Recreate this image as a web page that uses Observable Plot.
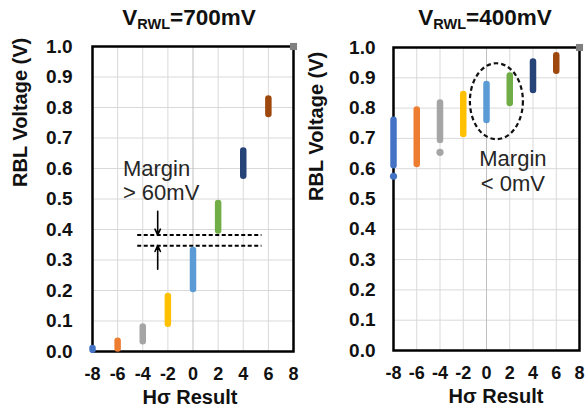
<!DOCTYPE html>
<html>
<head>
<meta charset="utf-8">
<script src="https://cdn.jsdelivr.net/npm/d3@7"></script>
<script src="https://cdn.jsdelivr.net/npm/@observablehq/plot@0.6"></script>
<style>
  html, body { margin: 0; padding: 0; background: #fff; }
  #root { position: relative; width: 586px; height: 415px; overflow: hidden; font-family: "Liberation Sans", Arial, sans-serif; }
  .panel { position: absolute; top: 0; }
  .title { position: absolute; top: 8px; width: 220px; text-align: center; font-weight: bold; font-size: 22.5px; line-height: 20px; color: #111; white-space: nowrap; }
  .title sub { font-size: 14.5px; vertical-align: -4px; line-height: 0; }
</style>
</head>
<body>
<div id="root">
  <div class="title" style="left:79px">V<sub>RWL</sub>=700mV</div>
  <div class="title" style="left:375px">V<sub>RWL</sub>=400mV</div>
  <div class="panel" id="left" style="left:0px"></div>
  <div class="panel" id="right" style="left:300px"></div>
</div>
<script>
// ---- data ----
const hSigma = [-8, -6, -4, -2, 0, 2, 4, 6];
const barColors = ["#4472C4", "#ED7D31", "#A5A5A5", "#FFC000", "#5B9BD5", "#70AD47", "#264478", "#9E480E"];
// V_RWL = 700 mV : RBL voltage ranges
const low700  = [0.004, 0.008, 0.032, 0.089, 0.203, 0.395, 0.575, 0.777];
const high700 = [0.010, 0.034, 0.080, 0.180, 0.331, 0.485, 0.657, 0.828];
// V_RWL = 400 mV : RBL voltage ranges
const low400  = [0.610, 0.614, 0.693, 0.713, 0.759, 0.815, 0.858, 0.922];
const high400 = [0.760, 0.794, 0.817, 0.845, 0.878, 0.906, 0.952, 0.973];
// isolated points below the 400 mV ranges
const tailX400 = [-8, -4];
const tailY400 = [0.575, 0.654];
// axis ticks
const xTicks = [-8, -6, -4, -2, 0, 2, 4, 6, 8];
const yTicks = [0.0, 0.1, 0.2, 0.3, 0.4, 0.5, 0.6, 0.7, 0.8, 0.9, 1.0];
const xGrid = [-6, -4, -2, 2, 4, 6];
// corner marker
const cornerX = [8];
const cornerY = [1.0];
// margin annotation (700 mV)
const marginLevels700 = [0.382, 0.347];
const marginSpan700 = [-4.40, 5.49];
const arrowX700 = -2.81;
const arrowFrom700 = [0.46, 0.27];
const arrowTo700 = [0.382, 0.347];
const marginText700 = ["Margin", "> 60mV"];
const marginTextX700 = [-5.58, -5.58];
const marginTextY700 = [0.598, 0.520];
// margin annotation (400 mV)
const ellipseCenter400 = [0.895, 0.821];
const marginText400 = ["Margin", "< 0mV"];
const marginTextX400 = [-0.62, -0.50];
const marginTextY400 = [0.631, 0.549];

const yTitle = "RBL Voltage (V)";
const xTitle = "Hσ Result";

function panel(cfg) {
  const bars = hSigma.map((x, i) => ({x, lo: cfg.low[i], hi: cfg.high[i], c: barColors[i]}));
  const marks = [
    Plot.gridX(xGrid, {stroke: "#d9d9d9", strokeOpacity: 1, strokeWidth: 1}),
    Plot.gridY(yTicks.slice(1, -1), {stroke: "#d9d9d9", strokeOpacity: 1, strokeWidth: 1}),
    Plot.ruleX([0], {stroke: "#bfbfbf", strokeWidth: 1}),
    Plot.frame({stroke: "#000", strokeWidth: 2.5}),
    ...cfg.extra,
    Plot.ruleX(bars, {x: "x", y1: "lo", y2: "hi", stroke: "c", strokeWidth: cfg.barWidth, strokeLinecap: "round"}),
    ...cfg.extraTop,
    Plot.dot(cornerX.map((x, i) => ({x, y: cornerY[i]})), {x: "x", y: "y", symbol: "square", r: 4, fill: "#808080", stroke: "none"}),
    Plot.axisX({ticks: xTicks, tickFormat: d => String(d), tickSize: 0, tickPadding: 16, label: null, fontSize: 18, fontWeight: "bold", fill: "#111"}),
    Plot.axisY({ticks: yTicks, tickFormat: d => d.toFixed(1), tickSize: 0, tickPadding: cfg.yPad, label: null, fontSize: 19, fontWeight: "bold", fill: "#111"}),
    Plot.text([yTitle], {frameAnchor: "left", rotate: -90, dx: cfg.yTitleDx, dy: cfg.yTitleDy, fontSize: 20, fontWeight: "bold", fill: "#111"}),
    Plot.text([xTitle], {frameAnchor: "bottom", dy: 52, dx: cfg.xTitleDx, fontSize: 20, fontWeight: "bold", fill: "#111"})
  ];
  return Plot.plot({
    width: cfg.width,
    height: 415,
    marginLeft: cfg.ml,
    marginRight: 7,
    marginTop: cfg.mt,
    marginBottom: cfg.mb,
    x: {domain: [-8, 8]},
    y: {domain: [0, 1]},
    color: {type: "identity"},
    style: {fontFamily: "Liberation Sans, Arial, sans-serif", background: "transparent", color: "#111", overflow: "visible"},
    marks
  });
}

// 700 mV annotations
const dashRows = marginLevels700.map(y => ({y, x1: marginSpan700[0], x2: marginSpan700[1]}));
const arrows700 = arrowFrom700.map((y1, i) => ({x: arrowX700, y1, y2: arrowTo700[i]}));
const texts700 = marginText700.map((t, i) => ({t, x: marginTextX700[i], y: marginTextY700[i]}));
const left = panel({
  width: 300, ml: 92, mt: 46, mb: 64, yPad: 20, barWidth: 6.5,
  yTitleDx: -72, yTitleDy: -12, xTitleDx: -3,
  low: low700, high: high700,
  extra: [
    Plot.ruleY(dashRows, {y: "y", x1: "x1", x2: "x2", stroke: "#000", strokeWidth: 2, strokeDasharray: "4,2.5"}),
    Plot.arrow(arrows700, {x: "x", y1: "y1", y2: "y2", stroke: "#000", strokeWidth: 1.6, headLength: 6, headAngle: 50}),
    Plot.text(texts700, {x: "x", y: "y", text: "t", textAnchor: "start", fontSize: 22, fill: "#262626"})
  ],
  extraTop: []
});

// 400 mV annotations
const tails = tailX400.map((x, i) => ({x, y: tailY400[i], c: barColors[hSigma.indexOf(x)]}));
const texts400 = marginText400.map((t, i) => ({t, x: marginTextX400[i], y: marginTextY400[i]}));
const ellipseMark = (index, scales) => {
  const cx = scales.x(ellipseCenter400[0]);
  const cy = scales.y(ellipseCenter400[1]);
  const e = d3.create("svg:ellipse")
    .attr("cx", cx).attr("cy", cy).attr("rx", 26.5).attr("ry", 38)
    .attr("fill", "none").attr("stroke", "#111").attr("stroke-width", 2.2)
    .attr("stroke-dasharray", "4.5,3");
  return e.node();
};
const right = panel({
  width: 286, ml: 93, mt: 47, mb: 65, yPad: 18, barWidth: 6.5,
  yTitleDx: -76.5, yTitleDy: 2, xTitleDx: 9.5,
  low: low400, high: high400,
  extra: [
    ellipseMark,
    Plot.text(texts400, {x: "x", y: "y", text: "t", textAnchor: "start", fontSize: 22, fill: "#262626"})
  ],
  extraTop: [
    Plot.dot(tails, {x: "x", y: "y", r: 3.6, fill: "c", stroke: "none"})
  ]
});

document.getElementById("left").appendChild(left);
document.getElementById("right").appendChild(right);
</script>
</body>
</html>
